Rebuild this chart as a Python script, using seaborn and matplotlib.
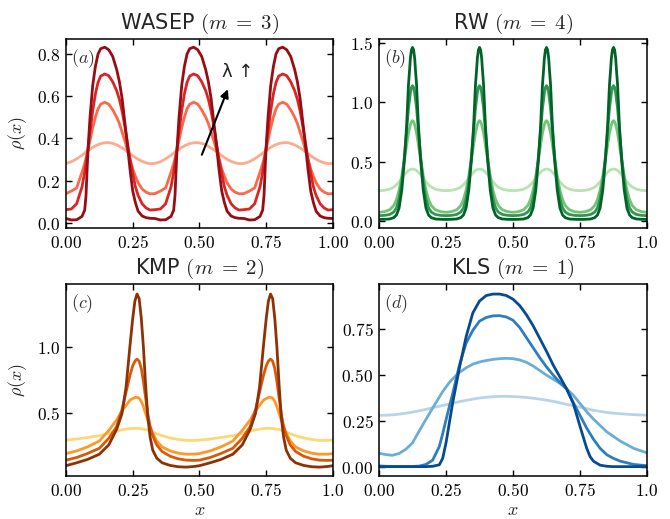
import numpy as np
import pandas as pd
import matplotlib
matplotlib.use("Agg")
import matplotlib.pyplot as plt
import matplotlib.ticker as mticker
import seaborn as sns

# ---- datos ----
# (a) WASEP, m = 3 : un periodo (1/3), fase desde x = 0
wasep_phase = [0.0, 0.02, 0.04, 0.06, 0.07, 0.075, 0.08, 0.085, 0.09, 0.10, 0.11, 0.12, 0.13, 0.145,
               0.16, 0.175, 0.19, 0.20, 0.21, 0.22, 0.23, 0.24, 0.25, 0.26, 0.27, 0.285, 0.30, 0.315]
wasep_1 = [0.281, 0.289, 0.303, 0.320, 0.330, 0.335, 0.339, 0.344, 0.348, 0.357, 0.364, 0.370, 0.375, 0.379,
           0.380, 0.376, 0.369, 0.362, 0.354, 0.346, 0.337, 0.327, 0.318, 0.309, 0.301, 0.291, 0.284, 0.280]
wasep_2 = [0.138, 0.150, 0.165, 0.240, 0.280, 0.305, 0.330, 0.360, 0.390, 0.450, 0.500, 0.540, 0.562, 0.571,
           0.562, 0.535, 0.500, 0.470, 0.430, 0.390, 0.345, 0.300, 0.255, 0.220, 0.190, 0.160, 0.145, 0.137]
wasep_3 = [0.062, 0.065, 0.090, 0.170, 0.240, 0.285, 0.330, 0.380, 0.430, 0.530, 0.610, 0.665, 0.695, 0.705,
           0.697, 0.668, 0.625, 0.585, 0.530, 0.460, 0.380, 0.300, 0.235, 0.170, 0.130, 0.090, 0.070, 0.060]
wasep_4 = [0.020, 0.013, 0.014, 0.030, 0.060, 0.130, 0.280, 0.400, 0.500, 0.650, 0.740, 0.800, 0.825, 0.832,
           0.820, 0.788, 0.725, 0.668, 0.590, 0.480, 0.370, 0.250, 0.150, 0.095, 0.055, 0.032, 0.024, 0.021]

# (b) RW, m = 4 : un periodo (1/4)
rw_phase = [0.0, 0.02, 0.04, 0.055, 0.065, 0.075, 0.085, 0.095, 0.103, 0.11, 0.114, 0.117, 0.121, 0.125,
            0.129, 0.133, 0.136, 0.14, 0.147, 0.155, 0.165, 0.175, 0.185, 0.195, 0.21, 0.23]
rw_1 = [0.255, 0.258, 0.268, 0.285, 0.305, 0.330, 0.360, 0.390, 0.410, 0.425, 0.430, 0.433, 0.436, 0.437,
        0.436, 0.433, 0.430, 0.425, 0.410, 0.390, 0.360, 0.330, 0.305, 0.285, 0.268, 0.258]
rw_2 = [0.073, 0.078, 0.095, 0.130, 0.180, 0.260, 0.380, 0.520, 0.640, 0.740, 0.780, 0.810, 0.835, 0.844,
        0.835, 0.810, 0.780, 0.740, 0.640, 0.520, 0.380, 0.260, 0.180, 0.130, 0.095, 0.078]
rw_3 = [0.045, 0.047, 0.055, 0.075, 0.110, 0.190, 0.330, 0.550, 0.760, 0.950, 1.020, 1.080, 1.125, 1.138,
        1.125, 1.080, 1.020, 0.950, 0.760, 0.550, 0.330, 0.190, 0.110, 0.075, 0.055, 0.047]
rw_4 = [0.013, 0.014, 0.017, 0.028, 0.050, 0.110, 0.260, 0.520, 0.800, 1.150, 1.270, 1.370, 1.440, 1.460,
        1.440, 1.370, 1.270, 1.150, 0.800, 0.520, 0.260, 0.110, 0.050, 0.028, 0.017, 0.014]

# (c) KMP, m = 2 : un periodo (1/2)
kmp_phase = [0.0, 0.04, 0.08, 0.125, 0.16, 0.19, 0.21, 0.225, 0.24, 0.25, 0.258, 0.266, 0.274,
             0.282, 0.29, 0.298, 0.306, 0.315, 0.325, 0.34, 0.36, 0.39, 0.42, 0.45, 0.48]
kmp_1 = [0.297, 0.305, 0.317, 0.330, 0.348, 0.365, 0.375, 0.380, 0.384, 0.386, 0.386, 0.386, 0.385,
         0.383, 0.380, 0.377, 0.372, 0.366, 0.358, 0.345, 0.330, 0.313, 0.302, 0.295, 0.294]
kmp_2 = [0.195, 0.215, 0.245, 0.290, 0.370, 0.450, 0.520, 0.560, 0.600, 0.612, 0.620, 0.621, 0.615,
         0.590, 0.550, 0.500, 0.450, 0.400, 0.350, 0.290, 0.245, 0.215, 0.198, 0.190, 0.190]
kmp_3 = [0.145, 0.165, 0.195, 0.235, 0.310, 0.400, 0.530, 0.660, 0.790, 0.860, 0.895, 0.911, 0.895,
         0.840, 0.740, 0.620, 0.500, 0.400, 0.330, 0.260, 0.210, 0.175, 0.155, 0.145, 0.143]
kmp_4 = [0.103, 0.125, 0.150, 0.190, 0.260, 0.380, 0.500, 0.700, 1.020, 1.220, 1.350, 1.404, 1.370,
         1.220, 1.000, 0.720, 0.480, 0.320, 0.220, 0.160, 0.125, 0.105, 0.095, 0.092, 0.097]

# (d) KLS, m = 1
kls_x = [0.0, 0.025, 0.05, 0.075, 0.1, 0.125, 0.15, 0.175, 0.2, 0.225, 0.2375, 0.25, 0.2625, 0.275, 0.3,
         0.325, 0.35, 0.375, 0.4, 0.425, 0.45, 0.475, 0.5, 0.525, 0.55, 0.575, 0.6, 0.625, 0.65, 0.675,
         0.7, 0.725, 0.75, 0.7625, 0.775, 0.7875, 0.8, 0.825, 0.85, 0.875, 0.9, 0.95, 1.0]
kls_1 = [0.280, 0.281, 0.283, 0.287, 0.292, 0.298, 0.305, 0.313, 0.322, 0.330, 0.334, 0.338, 0.342, 0.347,
         0.355, 0.362, 0.369, 0.375, 0.379, 0.382, 0.384, 0.384, 0.383, 0.381, 0.378, 0.374, 0.369, 0.363,
         0.357, 0.349, 0.340, 0.333, 0.325, 0.321, 0.317, 0.312, 0.308, 0.302, 0.296, 0.292, 0.289, 0.284,
         0.281]
kls_2 = [0.073, 0.066, 0.062, 0.072, 0.095, 0.130, 0.195, 0.258, 0.320, 0.380, 0.410, 0.435, 0.460, 0.480,
         0.515, 0.540, 0.560, 0.572, 0.580, 0.586, 0.590, 0.592, 0.590, 0.583, 0.570, 0.550, 0.525, 0.500,
         0.478, 0.455, 0.425, 0.390, 0.345, 0.322, 0.300, 0.280, 0.260, 0.225, 0.190, 0.165, 0.140, 0.100,
         0.075]
kls_3 = [0.004, 0.002, 0.001, 0.001, 0.001, 0.001, 0.003, 0.012, 0.035, 0.110, 0.180, 0.255, 0.330, 0.400,
         0.555, 0.675, 0.745, 0.795, 0.815, 0.824, 0.825, 0.818, 0.800, 0.760, 0.705, 0.650, 0.595, 0.545,
         0.500, 0.460, 0.425, 0.350, 0.280, 0.245, 0.210, 0.180, 0.150, 0.100, 0.065, 0.045, 0.030, 0.012,
         0.005]
kls_4 = [0.0, 0.0, 0.0, 0.0, 0.0, 0.0, 0.0, 0.0, 0.002, 0.010, 0.045, 0.130, 0.240, 0.350,
         0.540, 0.710, 0.840, 0.905, 0.935, 0.943, 0.943, 0.935, 0.915, 0.880, 0.830, 0.770, 0.700, 0.630,
         0.555, 0.490, 0.425, 0.345, 0.220, 0.160, 0.100, 0.055, 0.030, 0.008, 0.002, 0.0, 0.0, 0.0,
         0.0]

x_ticks = [0.0, 0.25, 0.5, 0.75, 1.0]


def periodic_frame(phase, curves, m):
    """Repite el periodo leido m veces y cierra en x = 1."""
    period = 1.0 / m
    rows = []
    for k, prof in enumerate(curves):
        xs = np.concatenate([np.asarray(phase) + j * period for j in range(m)] + [[1.0]])
        ys = np.concatenate([prof] * m + [prof[:1]])
        rows.append(pd.DataFrame({"x": xs, "rho": ys, "curva": k}))
    return pd.concat(rows, ignore_index=True)


def plain_frame(x, curves):
    return pd.concat([pd.DataFrame({"x": x, "rho": c, "curva": k}) for k, c in enumerate(curves)],
                     ignore_index=True)


sns.set_theme(style="ticks")
plt.rcParams.update({
    "font.family": ["DejaVu Sans"],
    "mathtext.fontset": "cm",
    "axes.edgecolor": "black",
    "axes.linewidth": 1.1,
    "xtick.direction": "in",
    "ytick.direction": "in",
    "xtick.top": True,
    "ytick.right": True,
    "xtick.major.size": 4.5,
    "ytick.major.size": 4.5,
    "xtick.color": "black",
    "ytick.color": "black",
    "lines.solid_joinstyle": "round",
})

fig, axes = plt.subplots(2, 2, figsize=(6.7, 5.19), dpi=100)
ax_a, ax_b, ax_c, ax_d = axes.ravel()
ax_a.set_position([0.0985, 0.5607, 0.3985, 0.3642])
ax_b.set_position([0.5657, 0.5607, 0.4000, 0.3642])
ax_c.set_position([0.0985, 0.0829, 0.3985, 0.3699])
ax_d.set_position([0.5657, 0.0829, 0.4000, 0.3699])

frac = [0.3, 0.5, 0.7, 0.9]
paneles = [
    (ax_a, periodic_frame(wasep_phase, [wasep_1, wasep_2, wasep_3, wasep_4], 3), "Reds",
     r"WASEP $(m\;=\;3)$", "$(a)$", [0.0, 0.2, 0.4, 0.6, 0.8], "{:.1f}", (-0.025, 0.871)),
    (ax_b, periodic_frame(rw_phase, [rw_1, rw_2, rw_3, rw_4], 4), "Greens",
     r"RW $(m\;=\;4)$", "$(b)$", [0.0, 0.5, 1.0, 1.5], "{:.1f}", (-0.059, 1.531)),
    (ax_c, periodic_frame(kmp_phase, [kmp_1, kmp_2, kmp_3, kmp_4], 2), "YlOrBr",
     r"KMP $(m\;=\;2)$", "$(c)$", [0.5, 1.0], "{:.1f}", (0.025, 1.48)),
    (ax_d, plain_frame(kls_x, [kls_1, kls_2, kls_3, kls_4]), "Blues",
     r"KLS $(m\;=\;1)$", "$(d)$", [0.0, 0.25, 0.5, 0.75], "{:.2f}", (-0.051, 0.998)),
]

for ax, df, cmap_name, title, tag, yt, yfmt, ylim in paneles:
    cmap = matplotlib.colormaps[cmap_name]
    pal = [cmap(f) for f in frac]
    sns.lineplot(data=df, x="x", y="rho", hue="curva", palette=pal, linewidth=2.0,
                 legend=False, ax=ax, sort=False)
    ax.set_xlim(0, 1)
    ax.set_ylim(*ylim)
    ax.set_xticks(x_ticks)
    ax.set_yticks(yt)
    ax.yaxis.set_major_formatter(mticker.FuncFormatter(lambda v, p, f=yfmt: "$" + f.format(v) + "$"))
    if ax is ax_a:
        xl = ["0.00", "0.25", "0.50", "0.75", "1.00"]
    else:
        xl = ["0.00", "0.25", "0.50", "0.75", "1.0"]
    ax.set_xticklabels(["$" + s + "$" for s in xl])
    ax.tick_params(labelsize=12.5, width=1.0, pad=4)
    ax.set_title(title, fontsize=15, pad=7)
    ax.text(0.018, 0.955, tag, transform=ax.transAxes, ha="left", va="top", fontsize=13, color="#333333")
    ax.set_xlabel("")
    ax.set_ylabel("")
    for s in ax.spines.values():
        s.set_visible(True)

ax_a.set_ylabel(r"$\rho(x)$", fontsize=13, labelpad=6)
ax_c.set_ylabel(r"$\rho(x)$", fontsize=13, labelpad=6)
ax_c.set_xlabel("$x$", fontsize=13, labelpad=1)
ax_d.set_xlabel("$x$", fontsize=13, labelpad=1)

ax_a.annotate("", xy=(0.61, 0.645), xytext=(0.505, 0.31),
              arrowprops=dict(arrowstyle="-|>", color="black", lw=1.5, mutation_scale=12))
ax_a.text(0.643, 0.715, "λ ↑", ha="center", va="center", fontsize=13, color="#222222")

fig.savefig("out.png", dpi=100)
